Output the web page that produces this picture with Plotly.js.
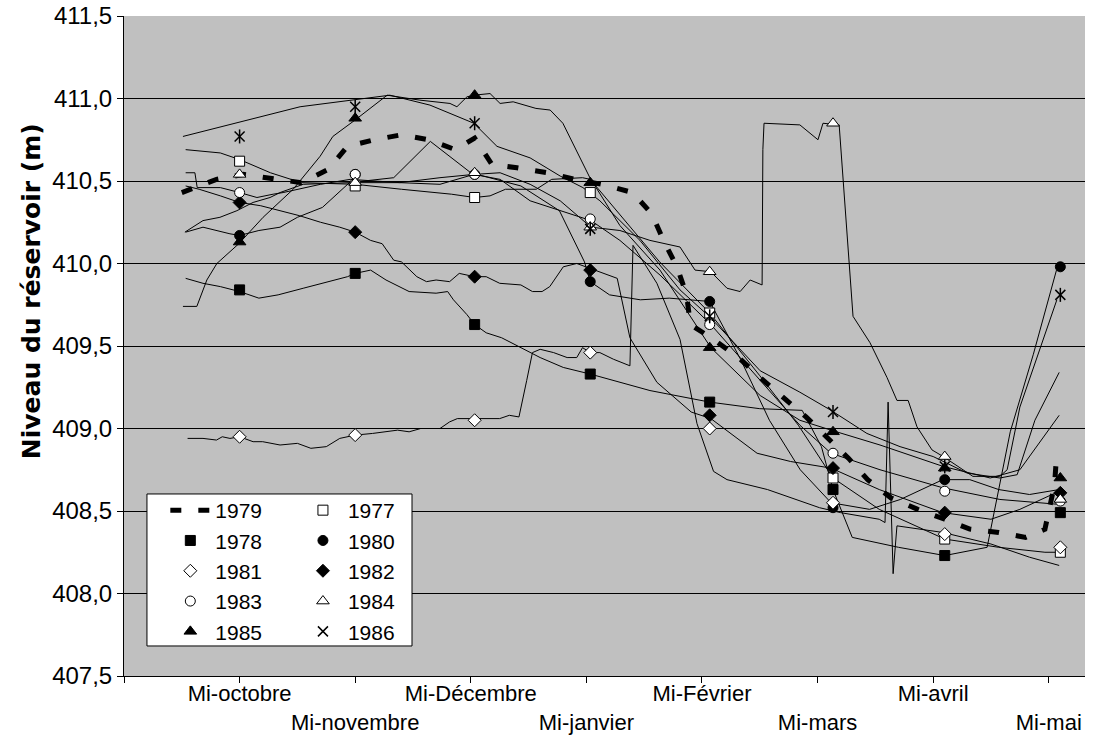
<!DOCTYPE html>
<html>
<head>
<meta charset="utf-8">
<script src="https://cdn.plot.ly/plotly-3.0.1.min.js"></script>
<style>html,body{margin:0;padding:0;background:#fff;}#chart{width:1099px;height:742px;}</style>
</head>
<body>
<div id="chart"></div>
<script>
// x = days after mid-September
const tickDays = [0, 30, 60, 90, 120, 150, 180, 210, 240];
const tickLabels = ['', 'Mi-octobre', 'Mi-novembre', 'Mi-Décembre', 'Mi-janvier', 'Mi-Février', 'Mi-mars', 'Mi-avril', 'Mi-mai'];
const markerDays = [30, 60, 91, 121, 152, 184, 213, 243];

const d1977 = [16, 20, 25, 30, 38, 46, 60, 72, 85, 91, 95, 99, 107, 111, 119, 121, 129, 139, 152, 165, 175, 184, 196, 213, 227, 239, 243];
const v1977 = [410.69, 410.68, 410.67, 410.63, 410.55, 410.49, 410.48, 410.45, 410.42, 410.40, 410.41, 410.45, 410.45, 410.51, 410.52, 410.51, 410.29, 410.01, 409.70, 409.32, 409.02, 408.70, 408.51, 408.33, 408.28, 408.25, 408.25];
const m1977 = [410.62, 410.47, 410.40, 410.43, 409.70, 408.70, 408.33, 408.25];

const d1978 = [16, 20.5, 25, 30, 35, 40, 46.5, 53, 58, 60, 64, 68, 74, 81, 84, 85.5, 89, 91, 94, 98, 103, 108, 114, 121, 136.5, 152, 165, 176, 181, 184, 189, 201, 213, 224, 230, 236, 242];
const v1978 = [409.91, 409.88, 409.86, 409.83, 409.79, 409.81, 409.85, 409.89, 409.92, 409.94, 409.96, 409.90, 409.83, 409.82, 409.83, 409.78, 409.69, 409.63, 409.58, 409.55, 409.49, 409.43, 409.37, 409.33, 409.23, 409.16, 409.12, 409.11, 408.89, 408.63, 408.34, 408.28, 408.23, 408.28, 408.98, 409.45, 409.96];
const m1978 = [409.84, 409.94, 409.63, 409.33, 409.16, 408.63, 408.23, 408.49];

const d1979 = [15, 24, 31, 39, 46, 53, 58, 65, 72, 79, 86, 91, 95.5, 102, 110, 117, 124, 132, 137, 140, 143.5, 146, 147, 153, 159.5, 165, 171, 177, 188, 193, 199, 206, 213, 219.5, 227, 234, 239, 241.5, 242];
const v1979 = [410.43, 410.51, 410.54, 410.51, 410.49, 410.57, 410.71, 410.75, 410.78, 410.75, 410.69, 410.76, 410.60, 410.58, 410.55, 410.51, 410.48, 410.43, 410.30, 410.14, 409.98, 409.81, 409.63, 409.54, 409.43, 409.31, 409.19, 409.07, 408.82, 408.69, 408.58, 408.51, 408.45, 408.39, 408.37, 408.34, 408.39, 408.66, 408.83];

const d1980 = [16, 20.5, 27.5, 30, 35, 40.5, 45, 51.5, 58.5, 70, 79.5, 90, 103, 113, 119.5, 121, 126, 134, 141.5, 152, 160, 167.5, 175.5, 183.5, 193.5, 201.5, 212.5, 219.5, 227, 235, 242.7];
const v1980 = [410.19, 410.22, 410.18, 410.17, 410.20, 410.22, 410.28, 410.34, 410.49, 410.52, 410.74, 410.55, 410.47, 410.32, 410.01, 409.89, 409.81, 409.78, 409.79, 409.77, 409.42, 409.05, 408.75, 408.55, 408.51, 408.57, 408.69, 408.69, 408.63, 408.60, 408.63];
const m1980 = [410.17, 410.54, 410.54, 409.89, 409.77, 408.52, 408.69, 409.98];

const d1981 = [16.5, 20.5, 24, 25.5, 27.5, 30, 33.5, 36, 40.5, 45, 48.5, 52.5, 56, 60, 64.5, 71, 74, 77, 82, 84.5, 86.5, 91, 97.5, 100, 102.5, 104.5, 106, 108, 111.5, 115, 117.5, 119, 121, 123.5, 127, 131.3, 132.1, 138.3, 144.3, 148.7, 153, 156.5, 167, 180.5, 186, 196, 197.5, 198.3, 199.6, 200.6, 212.5, 225, 235, 242.7];
const v1981 = [408.94, 408.94, 408.93, 408.95, 408.94, 408.95, 408.92, 408.92, 408.90, 408.91, 408.88, 408.89, 408.94, 408.96, 408.97, 408.99, 408.98, 409.00, 409.00, 409.04, 409.06, 409.06, 409.06, 409.08, 409.07, 409.29, 409.46, 409.48, 409.46, 409.43, 409.43, 409.49, 409.46, 409.46, 409.42, 409.38, 410.11, 409.88, 409.54, 409.03, 408.74, 408.69, 408.63, 408.52, 408.49, 408.45, 408.43, 409.16, 408.12, 408.41, 408.37, 408.30, 408.22, 408.17];
const m1981 = [408.95, 408.96, 409.05, 409.46, 409.00, 408.55, 408.36, 408.28];

const d1982 = [16, 19.5, 25, 30, 35.5, 40.5, 45.5, 51, 56, 60, 64, 67, 70, 72, 76, 78.5, 81, 84.5, 87, 91, 94, 97.5, 103, 106, 108.5, 110.5, 114, 117.5, 121, 123.5, 128, 131.3, 138.3, 147.2, 152.3, 164.3, 173, 183.5, 196, 212.5, 225, 232.5, 242.7];
const v1982 = [410.47, 410.45, 410.41, 410.37, 410.35, 410.32, 410.29, 410.25, 410.22, 410.19, 410.14, 410.12, 410.02, 410.01, 409.92, 409.89, 409.90, 409.89, 409.94, 409.92, 409.92, 409.88, 409.87, 409.83, 409.83, 409.86, 409.98, 410.00, 409.97, 409.95, 409.91, 409.55, 409.28, 409.10, 409.06, 408.85, 408.80, 408.76, 408.63, 408.49, 408.45, 408.51, 408.62];
const m1982 = [410.37, 410.19, 409.92, 409.96, 409.08, 408.76, 408.49, 408.61];

const d1983 = [16, 18.4, 19, 25, 30, 34.5, 38.7, 41.3, 51, 58.7, 71.6, 82, 90.8, 97.6, 105.4, 113.2, 121.2, 128.7, 139.1, 152.3, 165.1, 175.4, 183.5, 196.2, 212.6, 227.3, 242.7];
const v1983 = [410.55, 410.55, 410.46, 410.46, 410.43, 410.40, 410.42, 410.43, 410.48, 410.51, 410.49, 410.48, 410.54, 410.51, 410.38, 410.32, 410.26, 410.14, 409.93, 409.63, 409.29, 409.02, 408.85, 408.75, 408.64, 408.57, 408.54];
const m1983 = [410.43, 410.54, 410.54, 410.27, 409.63, 408.85, 408.62, 408.56];

const d1984 = [15.8, 17.9, 20.5, 24.9, 29.3, 33.5, 37.9, 40.5, 46.5, 58.7, 71.6, 82, 90.8, 97.6, 105.4, 113.2, 121.2, 128.7, 136.5, 144.3, 148.2, 152.3, 156.5, 159.9, 162.5, 165.6, 165.8, 166.1, 175.4, 180.1, 181.4, 185.6, 189.2, 193.6, 198, 200.6, 203.5, 205.8, 209.7, 212.6, 220.3, 227.3, 229.2, 232.5, 237.7, 242.1];
const v1984 = [410.19, 410.22, 410.26, 410.28, 410.32, 410.37, 410.40, 410.43, 410.48, 410.49, 410.49, 410.52, 410.54, 410.55, 410.48, 410.38, 410.22, 410.20, 410.14, 410.10, 409.96, 409.95, 409.85, 409.83, 409.90, 409.87, 410.69, 410.85, 410.84, 410.75, 410.85, 410.84, 409.68, 409.52, 409.31, 409.17, 409.17, 409.01, 408.87, 408.83, 408.71, 408.71, 408.75, 409.13, 409.48, 409.78];
const m1984 = [410.54, 410.49, 410.55, 410.22, 409.95, 410.85, 408.83, 408.57];

const d1985 = [15.3, 18.9, 21.5, 24.1, 29.8, 36.1, 43.9, 50.9, 54.2, 60, 68.3, 76.8, 84.6, 86.4, 89, 90.8, 95, 97.6, 101, 106.9, 110.6, 113.9, 120.9, 128.7, 139.1, 152.3, 165.1, 175.4, 183.5, 196.2, 212.6, 224.8, 232.5, 242.7];
const v1985 = [409.74, 409.74, 409.90, 410.00, 410.12, 410.28, 410.45, 410.65, 410.77, 410.87, 411.02, 410.99, 410.97, 410.95, 411.01, 411.02, 411.03, 410.97, 410.98, 410.94, 410.93, 410.85, 410.52, 410.23, 409.96, 409.49, 409.20, 409.05, 408.99, 408.90, 408.77, 408.70, 408.75, 409.08];
const m1985 = [410.13, 410.88, 411.02, 410.49, 409.49, 408.98, 408.76, 408.70];

const d1986 = [15.3, 45.7, 69, 79.4, 90.8, 96.8, 105.4, 113.2, 119.1, 123.5, 133.9, 144.3, 152.3, 165.1, 175.4, 183.5, 192.8, 201.4, 210, 218.8, 227.3, 231.8, 236.4, 242.7];
const v1986 = [410.77, 410.95, 411.02, 410.96, 410.85, 410.71, 410.64, 410.53, 410.46, 410.38, 410.14, 409.84, 409.67, 409.35, 409.22, 409.11, 408.97, 408.89, 408.83, 408.73, 408.70, 408.72, 409.05, 409.34];
const m1986 = [410.77, 410.95, 410.85, 410.21, 409.68, 409.10, 408.77, 409.81];

const FONT = 'Liberation Sans, Arial, sans-serif';

const series = [
  {name: '1977', x: d1977, y: v1977, m: m1977, sym: 'square', fill: 'white', size: 10, lg: 'legend2'},
  {name: '1978', x: d1978, y: v1978, m: m1978, sym: 'square', fill: 'black', size: 10, lg: 'legend'},
  {name: '1980', x: d1980, y: v1980, m: m1980, sym: 'circle', fill: 'black', size: 10, lg: 'legend2'},
  {name: '1981', x: d1981, y: v1981, m: m1981, sym: 'diamond', fill: 'white', size: 10, lg: 'legend'},
  {name: '1982', x: d1982, y: v1982, m: m1982, sym: 'diamond', fill: 'black', size: 10, lg: 'legend2'},
  {name: '1983', x: d1983, y: v1983, m: m1983, sym: 'circle', fill: 'white', size: 10, lg: 'legend'},
  {name: '1984', x: d1984, y: v1984, m: m1984, sym: 'triangle-up', fill: 'white', size: 11, lg: 'legend2'},
  {name: '1985', x: d1985, y: v1985, m: m1985, sym: 'triangle-up', fill: 'black', size: 11, lg: 'legend'},
  {name: '1986', x: d1986, y: v1986, m: m1986, sym: 'x-thin-open', fill: 'black', size: 10, lg: 'legend2'}
];

const traces = [];
series.forEach(s => {
  traces.push({x: s.x, y: s.y, mode: 'lines', line: {color: 'black', width: 1}, showlegend: false, hoverinfo: 'skip'});
});
traces.push({x: d1979, y: v1979, mode: 'lines', name: '1979', legend: 'legend',
  line: {color: 'black', width: 5, dash: '11px,17px'}});
series.forEach(s => {
  const isStar = s.sym === 'x-thin-open';
  traces.push({x: markerDays, y: s.m, mode: 'markers', name: s.name, legend: s.lg,
    marker: {symbol: s.sym, size: s.size, color: s.fill,
      line: {color: 'black', width: isStar ? 1.5 : 1}}});
  if (isStar) {
    traces.push({x: markerDays, y: s.m, mode: 'markers', showlegend: false, hoverinfo: 'skip',
      marker: {symbol: 'line-ns-open', size: s.size, color: 'black', line: {color: 'black', width: 1.5}}});
  }
});

const ticktext = tickLabels.map((t, i) => (i % 2 === 0 && i > 0) ? '\u00a0<br>' + t : t);

const layout = {
  width: 1099, height: 742,
  margin: {l: 124, r: 14, t: 16, b: 66},
  paper_bgcolor: 'white', plot_bgcolor: '#C0C0C0',
  separators: ',.',
  showlegend: true,
  font: {family: FONT, color: 'black'},
  xaxis: {range: [0, 249.4], tickmode: 'array', tickvals: tickDays, ticktext: ticktext, tickangle: 0,
    ticks: 'outside', ticklen: 6, tickcolor: 'black', tickwidth: 1, ticklabelstandoff: -8,
    showline: true, linecolor: 'black', linewidth: 1, showgrid: false, zeroline: false,
    tickfont: {family: FONT, size: 22, color: 'black'}},
  yaxis: {range: [407.5, 411.5], tickmode: 'linear', tick0: 407.5, dtick: 0.5, tickformat: '.1f',
    ticks: 'outside', ticklen: 6, tickcolor: 'black', tickwidth: 1,
    showline: true, linecolor: 'black', linewidth: 1, showgrid: true, gridcolor: 'black', gridwidth: 1,
    zeroline: false, tickfont: {family: FONT, size: 24, color: 'black'}},
  annotations: [{text: 'Niveau du réservoir (m)', xref: 'paper', yref: 'paper', x: -0.0968, y: 0.583,
    xanchor: 'center', yanchor: 'middle', textangle: -90, showarrow: false,
    font: {family: 'DejaVu Sans, sans-serif', size: 25, color: 'black', weight: 'bold'}}],
  legend: {x: 0.043, y: 0.2818, xanchor: 'left', yanchor: 'top', bgcolor: 'rgba(0,0,0,0)', itemwidth: 40,
    font: {family: FONT, size: 21, color: 'black'}, tracegroupgap: 0},
  legend2: {x: 0.181, y: 0.2818, xanchor: 'left', yanchor: 'top', bgcolor: 'rgba(0,0,0,0)', itemwidth: 40,
    font: {family: FONT, size: 21, color: 'black'}, tracegroupgap: 0},
  shapes: [{type: 'rect', xref: 'paper', yref: 'paper', x0: 0.0239, x1: 0.2997, y0: 0.0455, y1: 0.2758,
    fillcolor: 'white', line: {color: 'black', width: 1}, layer: 'above'}]
};

Plotly.newPlot('chart', traces, layout, {displayModeBar: false, staticPlot: true});
</script>
</body>
</html>
